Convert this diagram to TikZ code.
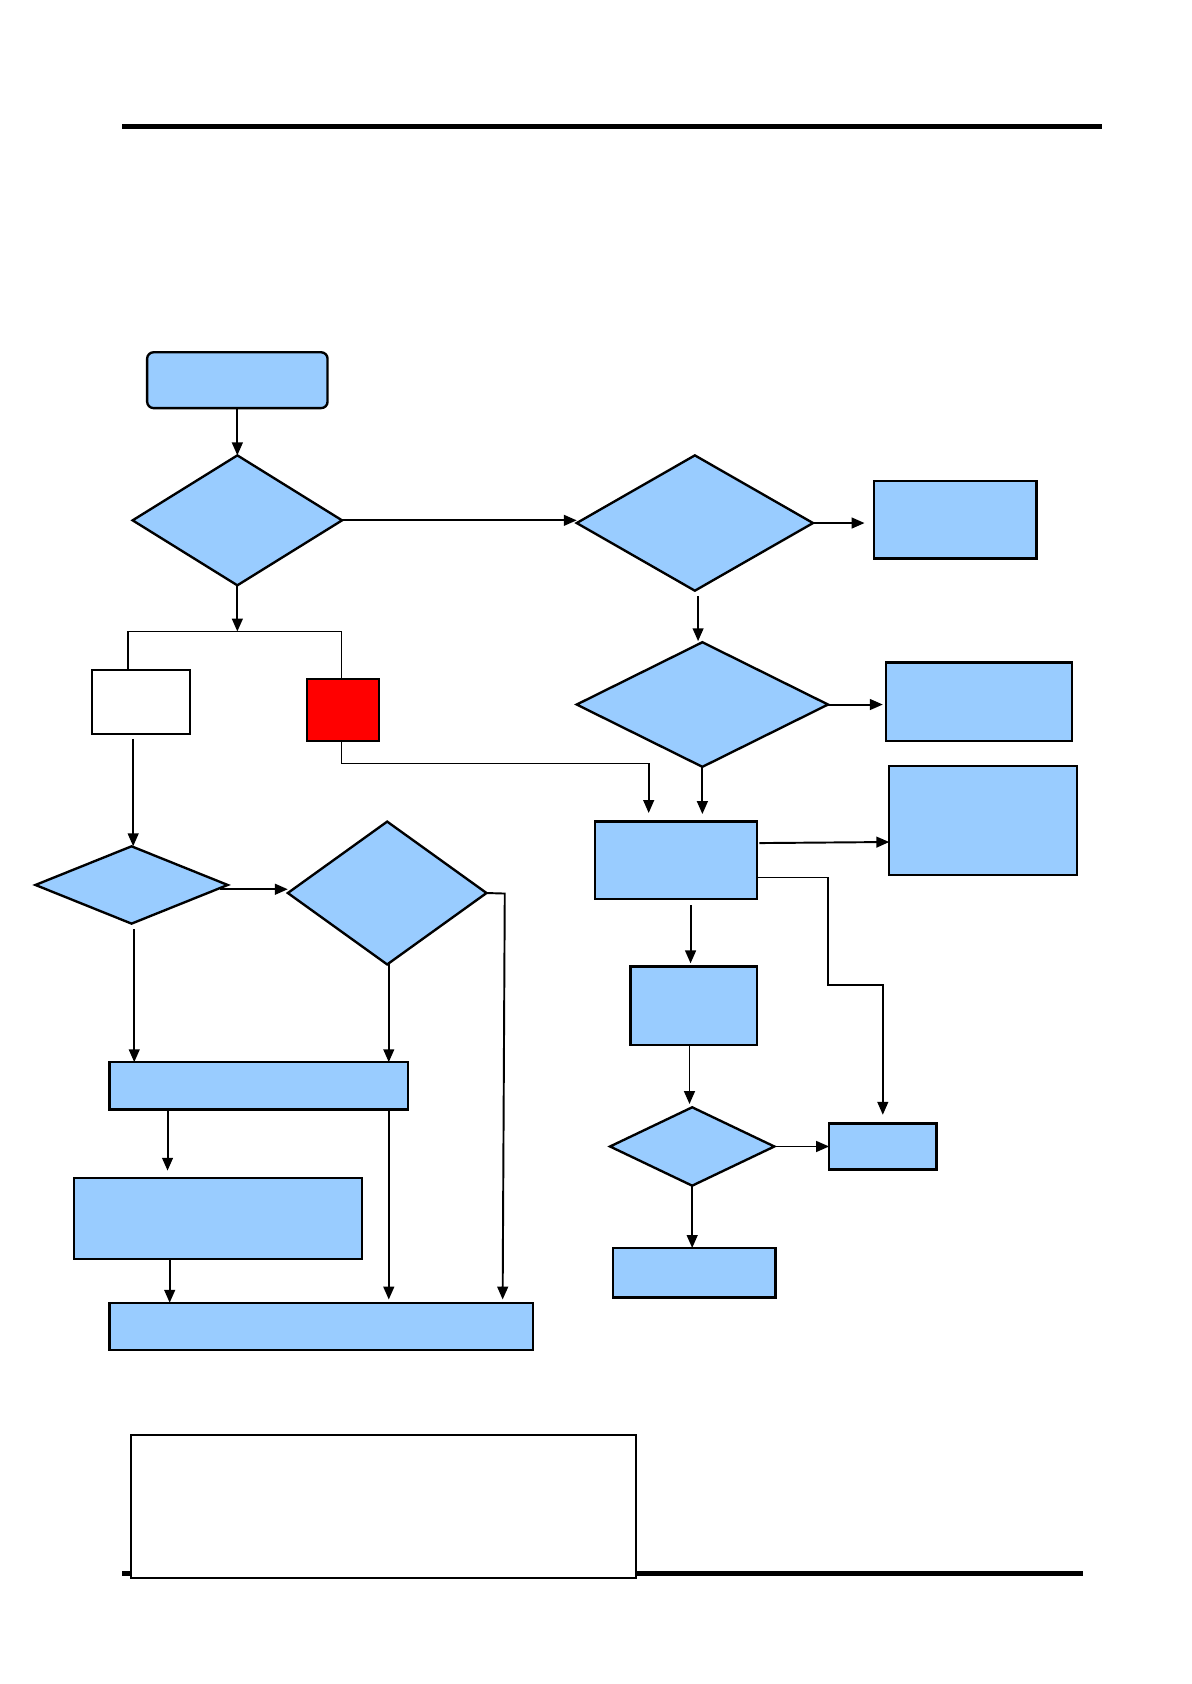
\documentclass[tikz,border=0pt]{standalone}
\usetikzlibrary{shapes.geometric,arrows.meta,calc}
\definecolor{fillblue}{RGB}{153,204,255}
\begin{document}
\begin{tikzpicture}[x=1pt,y=-1pt,
  bbox/.style={draw=black,fill=fillblue,line width=2.2pt,rectangle,inner sep=0pt,outer sep=0pt},
  ddia/.style={draw=black,fill=fillblue,line width=2.2pt,diamond,inner sep=0pt,outer sep=0pt},
  conn/.style={line width=1.8pt,-{Triangle[length=12pt,width=10pt]}},
  plainline/.style={line width=1.6pt}]
\useasboundingbox (0,0) rectangle (1109,1568);
% header / footer rules
\draw[line width=4.5pt] (114,118) -- (1026,118);
\draw[line width=4.5pt] (114,1465) -- (1008,1465);
% nodes
\node[bbox,rounded corners=6pt,minimum width=168pt,minimum height=52pt] (start) at (221,354) {};
\node[ddia,minimum width=195pt,minimum height=121pt] (d1) at (221,484.5) {};
\node[ddia,minimum width=220pt,minimum height=126pt] (d2) at (647,487) {};
\node[bbox,minimum width=151pt,minimum height=72pt] (r1) at (889.5,484) {};
\node[ddia,minimum width=234pt,minimum height=116pt] (d3) at (654,656) {};
\node[bbox,minimum width=173pt,minimum height=73pt] (r2) at (911.5,653.5) {};
\node[bbox,minimum width=151pt,minimum height=72pt] (b4) at (629.5,801) {};
\node[bbox,minimum width=175pt,minimum height=102pt] (r3) at (915.5,764) {};
\node[bbox,minimum width=118pt,minimum height=73pt] (b5) at (646,936.5) {};
\node[ddia,minimum width=153pt,minimum height=73pt] (d6) at (644.5,1067.5) {};
\node[bbox,minimum width=100pt,minimum height=43pt] (r4) at (822,1067.5) {};
\node[bbox,minimum width=151pt,minimum height=46pt] (b7) at (646.5,1185) {};
\node[draw=black,fill=white,line width=1.8pt,inner sep=0pt,outer sep=0pt,minimum width=91pt,minimum height=59pt] (w) at (131.5,653.5) {};
\node[draw=black,fill=red,line width=2.2pt,inner sep=0pt,outer sep=0pt,minimum width=67pt,minimum height=58pt] (rd) at (319.5,661) {};
\node[ddia,minimum width=179pt,minimum height=72pt] (d8) at (122.5,824) {};
\node[ddia,minimum width=185pt,minimum height=133pt] (d9) at (360.5,831.5) {};
\node[bbox,minimum width=278pt,minimum height=44pt] (l1) at (241,1011) {};
\node[bbox,minimum width=268pt,minimum height=75pt] (l2) at (203,1134.5) {};
\node[bbox,minimum width=394pt,minimum height=44pt] (l3) at (299,1235) {};
\node[draw=black,fill=white,line width=1.8pt,inner sep=0pt,outer sep=0pt,minimum width=470pt,minimum height=133pt] (note) at (357,1402.5) {};
% helper coordinates
\coordinate (j1) at (222,588);
\coordinate (jl) at (119,588);
\coordinate (jr) at (318,588);
\coordinate (k1) at (771,917);
\coordinate (m1) at (470,832);
\coordinate (wa) at ($(w.south)+(-7.5,5)$);
\coordinate (d8a) at ($(d8.east)+(-7,4)$);
\coordinate (b5a) at ($(b5.south)+(-4,0)$);
% connectors
\draw[conn] (start.south) -- (d1.north);
\draw[conn] (d1.east) -- (d1.east -| d2.west);
\draw[conn,shorten >=9pt] (d2.east) -- (d2.east -| r1.west);
\draw[conn] ($(d2.south)+(3,5)$) -- ($(d3.north)+(-4,-1)$);
\draw[conn,shorten >=3pt] (d3.east) -- (r2.west |- d3.east);
\draw[conn,shorten >=7pt] (d3.south) -- (d3.south |- b4.north);
\draw[conn] ($(b4.east)+(2,-16)$) -- ($(b4.east -| r3.west)+(0,-17)$);
\draw[plainline,-{Triangle[length=12pt,width=10pt]},shorten >=8pt] ($(b4.east)+(0,16)$) -| (k1) -| (r4.north);
\draw[conn,shorten <=6pt,shorten >=3pt] ($(b4.south)+(13.5,0)$) -- ($(b5.north)+(-3,0)$);
\draw[conn,shorten >=3pt] (b5a) -- (b5a |- d6.north);
\draw[conn] (d6.east) -- (r4.west);
\draw[conn] (d6.south) -- (d6.south |- b7.north);
% left branch
\draw[conn] (d1.south) -- (d1.south |- j1);
\draw[plainline] (w.north -| jl) -- (jl) -- (jr) -- (rd.north -| jr);
\draw[plainline,-{Triangle[length=12pt,width=10pt]}] ($(rd.south)+(-1.5,0)$) -- ++(0,21) -| ($(b4.north)+(-25.5,-8)$);
\draw[conn] (wa) -- (wa |- d8.north);
\draw[conn] (d8a) -- (d8a -| d9.west);
\draw[conn,shorten >=3pt] (d9.east) -- (m1) -- ($(l3.north)+(169,0)$);
\draw[conn,shorten <=5pt] ($(d8.south)+(2.5,0)$) -- ($(l1.north west)+(23,0)$);
\draw[conn] ($(d9.south)+(1.5,0)$) -- ($(l1.north east)+(-18,0)$);
\draw[conn,shorten >=7pt] ($(l1.south west)+(54,0)$) -- ($(l2.north west)+(87,0)$);
\draw[conn,shorten >=3pt] ($(l1.south east)+(-18,0)$) -- ($(l3.north west)+(260,0)$);
\draw[conn] ($(l2.south west)+(89,0)$) -- ($(l3.north west)+(56,0)$);
\end{tikzpicture}
\end{document}
